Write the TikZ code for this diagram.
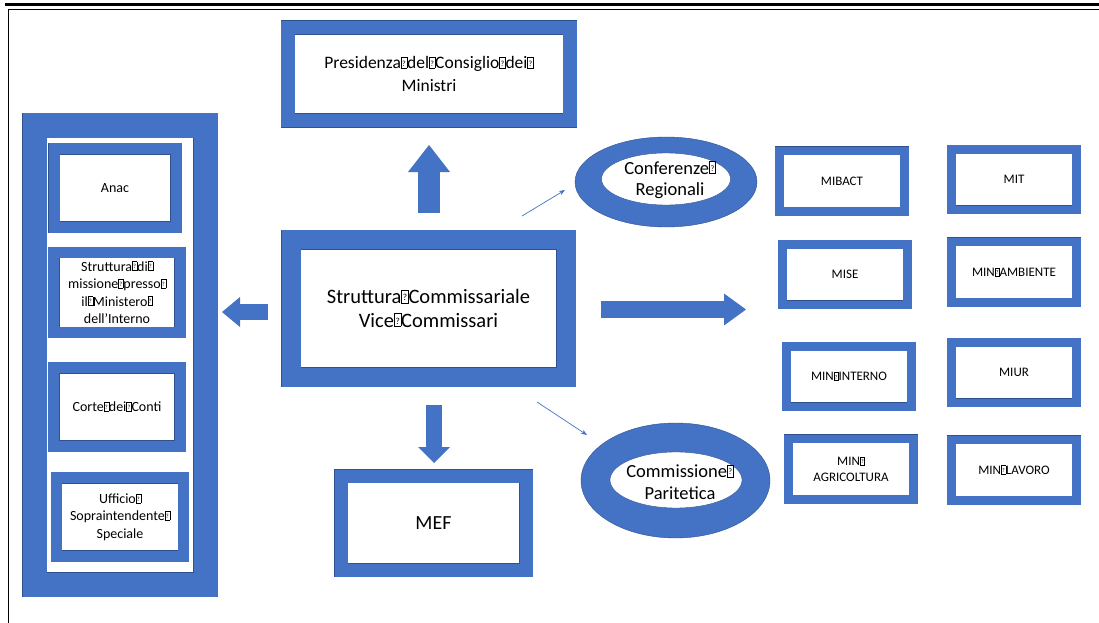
\documentclass[tikz,border=0pt]{standalone}
\usepackage{fontspec}
\setmainfont{Carlito}
\usepackage{graphicx}
\usetikzlibrary{arrows.meta,shapes.geometric}
\definecolor{blu}{HTML}{4472C4}
\definecolor{bordo}{HTML}{2F528F}
% glifo mancante (spazio non stampabile)
\newcommand{\qbox}{\raisebox{0.1ex}{\fboxsep=0pt\fboxrule=0.3pt\fbox{\makebox[0.32em][c]{\rule{0pt}{0.62em}\raisebox{0.1em}{\scalebox{0.45}{?}}}}}}
\newcommand{\fs}[2]{\fontsize{#1}{#2}\selectfont}
\tikzset{
  cornice/.style={draw=bordo, line width=0.4pt, double=blu, double distance=#1, fill=white, inner sep=0pt, align=center},
  cornice/.default=8.5pt,
  ministero/.style={cornice, minimum width=125pt, minimum height=60.5pt, font=\fs{13}{15.5}},
  ente/.style={cornice=11pt, minimum width=126.5pt, minimum height=78.5pt, font=\fs{14}{17.5}},
  anello/.style={ellipse, fill=blu, draw=bordo, line width=0.4pt, inner sep=0pt},
  foro/.style={ellipse, fill=white, draw=bordo, line width=0.4pt, inner sep=0pt},
  scritta/.style={inner sep=0pt, align=center, font=\fs{18.5}{21.5}},
  freccia/.style n args={3}{draw=blu, line width=#1, -{Triangle[width=#2,length=#3,line width=0pt]}},
  filo/.style={draw=blu, line width=0.7pt, -{Stealth[length=6pt,width=4.5pt]}}
}

\begin{document}
\begin{tikzpicture}[x=1pt,y=-1pt]
\useasboundingbox (0,0) rectangle (1099,623);

% cornice della pagina
\draw[line width=3pt] (5,5) -- (1099,5);
\draw[line width=1.5pt] (8.5,623) -- (8.5,9.5) -- (1099,9.5);

% centro
\node[cornice=19pt, minimum width=275pt, minimum height=137.5pt, font=\fs{20.5}{23.5}] (centrale) at (428.5,308.5) {Struttura\qbox Commissariale\\Vice\qbox Commissari};
\node[cornice=13.5pt, minimum width=282pt, minimum height=93pt, font=\fs{17.5}{22.5}] (presidenza) at (429,74) {Presidenza\qbox del\qbox Consiglio\qbox dei\qbox\\Ministri};
\node[cornice=13pt, minimum width=185pt, minimum height=94pt, font=\fs{20}{24}] (mef) at (433.5,523) {MEF};

% colonna di sinistra
\node[cornice=24pt, minimum width=171pt, minimum height=459pt] (colonna) at (120,355) {};
\node[ente, minimum width=122pt] (anac) at (115,188) {Anac};
\node[ente, minimum height=80pt] (missione) at (117,292.5) {Struttura\qbox di\qbox\\missione\qbox presso\qbox\\il\qbox Ministero\qbox\\dell’Interno};
\node[ente] (corte) at (117,407) {Corte\qbox dei\qbox Conti};
\node[ente, minimum width=127pt] (ufficio) at (120,517) {Ufficio\qbox\\Sopraintendente\qbox\\Speciale};

% ellissi
\node[anello, minimum width=182pt, minimum height=90pt] (conferenze) at (666,182) {};
\node[foro, minimum width=129pt, minimum height=52pt] (conferenzeF) at (666,179) {};
\node[scritta] (conferenzeT) at (670,180) {Conferenze\qbox\\Regionali};
\node[anello, minimum width=189pt, minimum height=115pt] (commissione) at (675.5,480.5) {};
\node[foro, minimum width=132pt, minimum height=56pt] (commissioneF) at (676,480) {};
\node[scritta] (commissioneT) at (680,482) {Commissione\qbox\\Paritetica};

% ministeri
\node[ministero] (mibact) at (842,181) {MIBACT};
\node[ministero] (mit) at (1014,179.5) {MIT};
\node[ministero] (mise) at (845,274.5) {MISE};
\node[ministero] (ambiente) at (1014,272) {MIN\qbox AMBIENTE};
\node[ministero] (interno) at (849,376.5) {MIN\qbox INTERNO};
\node[ministero] (miur) at (1014,372.5) {MIUR};
\node[ministero] (agricoltura) at (851,469) {MIN\qbox\\AGRICOLTURA};
\node[ministero] (lavoro) at (1014,470) {MIN\qbox LAVORO};

% frecce
\coordinate (suA) at (429,213);   \coordinate (suB) at (429,145);
\coordinate (giuA) at (434,405);  \coordinate (giuB) at (434,463);
\coordinate (dxA) at (601,309.5); \coordinate (dxB) at (746,309.5);
\coordinate (sxA) at (268,312);   \coordinate (sxB) at (222,312);
\draw[freccia={22pt}{42pt}{27pt}] (suA) -- (suB);
\draw[freccia={16pt}{32pt}{16pt}] (giuA) -- (giuB);
\draw[freccia={17pt}{32pt}{22pt}] (dxA) -- (dxB);
\draw[freccia={16pt}{30pt}{18pt}] (sxA) -- (sxB);

\coordinate (confA) at (522,216);  \coordinate (confB) at (565,190);
\coordinate (commA) at (537,402);  \coordinate (commB) at (587,435);
\draw[filo] (confA) -- (confB);
\draw[filo] (commA) -- (commB);
\end{tikzpicture}
\end{document}
